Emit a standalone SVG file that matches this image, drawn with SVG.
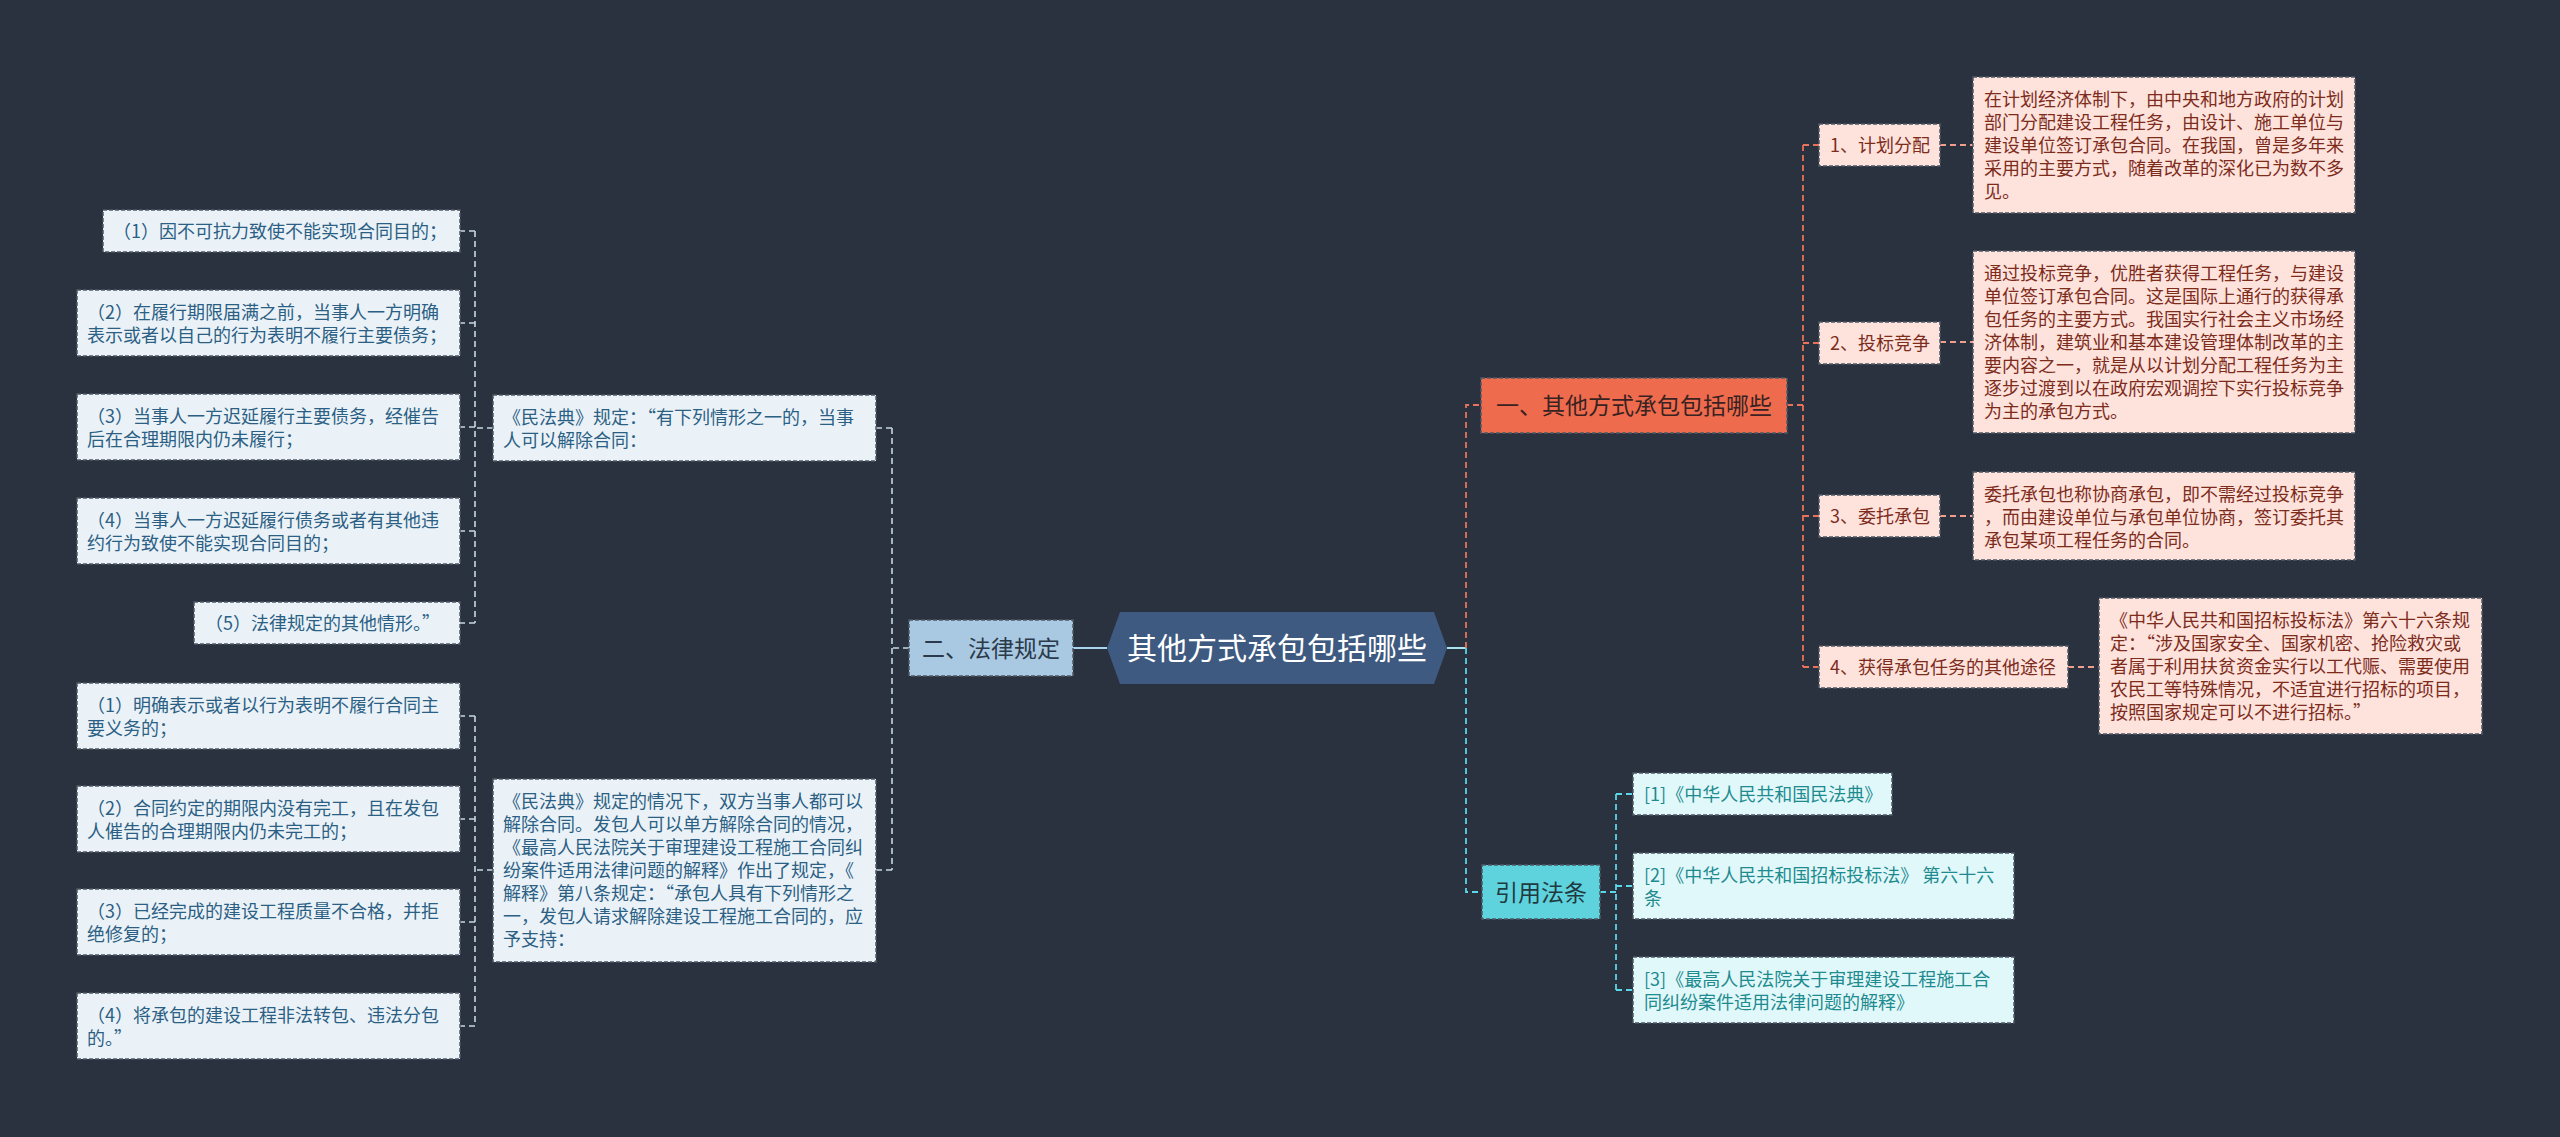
<svg xmlns="http://www.w3.org/2000/svg" width="2560" height="1137" viewBox="0 0 2560 1137">
<style>
text{font-family:"Noto Sans CJK SC","Noto Sans",sans-serif;}
.bx{stroke:#4f5866;stroke-width:1.5;stroke-dasharray:4 2;}
.blue{fill:#eaf2f8;}
.bt{fill:#2c5f84;font-size:18px;}
.pink{fill:#fde3dc;}
.pt{fill:#7d2c1c;font-size:18px;}
.cyan{fill:#e1f8fa;}
.ct{fill:#1d8b8f;font-size:18px;}
.lb{stroke:#c6d8e6;stroke-width:1.6;stroke-dasharray:6 4;fill:none;}
.lo{stroke:#e8735a;stroke-width:1.8;stroke-dasharray:6 4;fill:none;}
.lp{stroke:#ef9f8c;stroke-width:1.8;stroke-dasharray:6 4;fill:none;}
.lc{stroke:#5ad6e6;stroke-width:1.8;stroke-dasharray:6 4;fill:none;}
.br{font-size:23px;text-anchor:middle;}
</style>
<rect width="2560" height="1137" fill="#2a313f"/>
<g id="connectors">
<path d="M1073 648 H1107" stroke="#a8d4ee" stroke-width="2" fill="none"/>
<path class="lb" d="M909 648 H892 M892 428 V870 M892 428 H876 M892 870 H876"/>
<path class="lb" d="M493 428 H475 M475 231 V623 M475 231 H460 M475 323 H460 M475 427 H460 M475 531 H460 M475 623 H460"/>
<path class="lb" d="M493 870 H475 M475 716 V1026 M475 716 H460 M475 819 H460 M475 922 H460 M475 1026 H460"/>
<path d="M1447 648 H1466" stroke="#a8e4f0" stroke-width="2" fill="none"/>
<path class="lo" d="M1466 648 V405 H1481"/>
<path class="lc" d="M1466 648 V892 H1482"/>
<path class="lo" d="M1787 405 H1803 M1803 145 V667 M1803 145 H1819 M1803 343 H1819 M1803 516 H1819 M1803 667 H1819"/>
<path class="lp" d="M1940 145 H1973 M1940 342 H1973 M1940 516 H1973 M2068 667 H2099"/>
<path class="lc" d="M1600 892 H1616 M1616 794 V990 M1616 794 H1633 M1616 886 H1633 M1616 990 H1633"/>
</g>
<g id="root">
<polygon points="1107,648 1120,612 1434,612 1447,648 1434,684 1120,684" fill="#3e5a80"/>
<text x="1277" y="659" font-size="30" fill="#ffffff" text-anchor="middle">其他方式承包包括哪些</text>
</g>
<g id="branch-law">
<rect class="bx" x="909" y="620" width="164" height="56" fill="#a9c9e3"/>
<text class="br" x="991" y="657" fill="#2b3a4a">二、法律规定</text>
</g>
<g id="node-a">
<rect class="bx blue" x="493" y="395" width="383" height="66"/>
<text class="bt" x="503"><tspan x="503" y="423.5">《民法典》规定：“有下列情形之一的，当事</tspan><tspan x="503" y="446.5">人可以解除合同：</tspan></text>
</g>
<g id="node-c1">
<rect class="bx blue" x="103" y="210" width="357" height="42"/>
<text class="bt" x="113" y="237.5">（1）因不可抗力致使不能实现合同目的；</text>
</g>
<g id="node-c2">
<rect class="bx blue" x="77" y="290" width="383" height="66"/>
<text class="bt"><tspan x="87" y="318.5">（2）在履行期限届满之前，当事人一方明确</tspan><tspan x="87" y="341.5">表示或者以自己的行为表明不履行主要债务；</tspan></text>
</g>
<g id="node-c3">
<rect class="bx blue" x="77" y="394" width="383" height="66"/>
<text class="bt"><tspan x="87" y="422.5">（3）当事人一方迟延履行主要债务，经催告</tspan><tspan x="87" y="445.5">后在合理期限内仍未履行；</tspan></text>
</g>
<g id="node-c4">
<rect class="bx blue" x="77" y="498" width="383" height="66"/>
<text class="bt"><tspan x="87" y="526.5">（4）当事人一方迟延履行债务或者有其他违</tspan><tspan x="87" y="549.5">约行为致使不能实现合同目的；</tspan></text>
</g>
<g id="node-c5">
<rect class="bx blue" x="194" y="602" width="266" height="42"/>
<text class="bt" x="205" y="629.5">（5）法律规定的其他情形。”</text>
</g>
<g id="node-b">
<rect class="bx blue" x="493" y="779" width="383" height="183"/>
<text class="bt"><tspan x="503" y="807.5">《民法典》规定的情况下，双方当事人都可以</tspan><tspan x="503" y="830.5">解除合同。发包人可以单方解除合同的情况，</tspan><tspan x="503" y="853.5">《最高人民法院关于审理建设工程施工合同纠</tspan><tspan x="503" y="876.5">纷案件适用法律问题的解释》作出了规定，《</tspan><tspan x="503" y="899.5">解释》第八条规定：“承包人具有下列情形之</tspan><tspan x="503" y="922.5">一，发包人请求解除建设工程施工合同的，应</tspan><tspan x="503" y="945.5">予支持：</tspan></text>
</g>
<g id="node-d1">
<rect class="bx blue" x="77" y="683" width="383" height="66"/>
<text class="bt"><tspan x="87" y="711.5">（1）明确表示或者以行为表明不履行合同主</tspan><tspan x="87" y="734.5">要义务的；</tspan></text>
</g>
<g id="node-d2">
<rect class="bx blue" x="77" y="786" width="383" height="66"/>
<text class="bt"><tspan x="87" y="814.5">（2）合同约定的期限内没有完工，且在发包</tspan><tspan x="87" y="837.5">人催告的合理期限内仍未完工的；</tspan></text>
</g>
<g id="node-d3">
<rect class="bx blue" x="77" y="889" width="383" height="66"/>
<text class="bt"><tspan x="87" y="917.5">（3）已经完成的建设工程质量不合格，并拒</tspan><tspan x="87" y="940.5">绝修复的；</tspan></text>
</g>
<g id="node-d4">
<rect class="bx blue" x="77" y="993" width="383" height="66"/>
<text class="bt"><tspan x="87" y="1021.5">（4）将承包的建设工程非法转包、违法分包</tspan><tspan x="87" y="1044.5">的。”</tspan></text>
</g>
<g id="branch-other">
<rect class="bx" x="1481" y="378" width="306" height="55" fill="#ee6c4d"/>
<text class="br" x="1634" y="414" fill="#3a2222">一、其他方式承包包括哪些</text>
</g>
<g id="node-l1">
<rect class="bx pink" x="1819" y="124" width="121" height="42"/>
<text class="pt" x="1830" y="151.5">1、计划分配</text>
</g>
<g id="node-l2">
<rect class="bx pink" x="1819" y="322" width="121" height="42"/>
<text class="pt" x="1830" y="349.5">2、投标竞争</text>
</g>
<g id="node-l3">
<rect class="bx pink" x="1819" y="495" width="121" height="42"/>
<text class="pt" x="1830" y="522.5">3、委托承包</text>
</g>
<g id="node-l4">
<rect class="bx pink" x="1819" y="646" width="249" height="42"/>
<text class="pt" x="1830" y="673.5">4、获得承包任务的其他途径</text>
</g>
<g id="node-det1">
<rect class="bx pink" x="1973" y="77" width="382" height="136"/>
<text class="pt"><tspan x="1984" y="105.5">在计划经济体制下，由中央和地方政府的计划</tspan><tspan x="1984" y="128.5">部门分配建设工程任务，由设计、施工单位与</tspan><tspan x="1984" y="151.5">建设单位签订承包合同。在我国，曾是多年来</tspan><tspan x="1984" y="174.5">采用的主要方式，随着改革的深化已为数不多</tspan><tspan x="1984" y="197.5">见。</tspan></text>
</g>
<g id="node-det2">
<rect class="bx pink" x="1973" y="251" width="382" height="182"/>
<text class="pt"><tspan x="1984" y="279.5">通过投标竞争，优胜者获得工程任务，与建设</tspan><tspan x="1984" y="302.5">单位签订承包合同。这是国际上通行的获得承</tspan><tspan x="1984" y="325.5">包任务的主要方式。我国实行社会主义市场经</tspan><tspan x="1984" y="348.5">济体制，建筑业和基本建设管理体制改革的主</tspan><tspan x="1984" y="371.5">要内容之一，就是从以计划分配工程任务为主</tspan><tspan x="1984" y="394.5">逐步过渡到以在政府宏观调控下实行投标竞争</tspan><tspan x="1984" y="417.5">为主的承包方式。</tspan></text>
</g>
<g id="node-det3">
<rect class="bx pink" x="1973" y="472" width="382" height="88"/>
<text class="pt"><tspan x="1984" y="500.5">委托承包也称协商承包，即不需经过投标竞争</tspan><tspan x="1984" y="523.5">，而由建设单位与承包单位协商，签订委托其</tspan><tspan x="1984" y="546.5">承包某项工程任务的合同。</tspan></text>
</g>
<g id="node-det4">
<rect class="bx pink" x="2099" y="598" width="383" height="136"/>
<text class="pt"><tspan x="2110" y="626.5">《中华人民共和国招标投标法》第六十六条规</tspan><tspan x="2110" y="649.5">定：“涉及国家安全、国家机密、抢险救灾或</tspan><tspan x="2110" y="672.5">者属于利用扶贫资金实行以工代赈、需要使用</tspan><tspan x="2110" y="695.5">农民工等特殊情况，不适宜进行招标的项目，</tspan><tspan x="2110" y="718.5">按照国家规定可以不进行招标。”</tspan></text>
</g>
<g id="branch-ref">
<rect class="bx" x="1482" y="865" width="118" height="54" fill="#5fd3dd"/>
<text class="br" x="1541" y="901" fill="#1f3a40">引用法条</text>
</g>
<g id="node-r1">
<rect class="bx cyan" x="1633" y="773" width="259" height="42"/>
<text class="ct" x="1644" y="800.5">[1]《中华人民共和国民法典》</text>
</g>
<g id="node-r2">
<rect class="bx cyan" x="1633" y="853" width="381" height="66"/>
<text class="ct"><tspan x="1644" y="881.5">[2]《中华人民共和国招标投标法》 第六十六</tspan><tspan x="1644" y="904.5">条</tspan></text>
</g>
<g id="node-r3">
<rect class="bx cyan" x="1633" y="957" width="381" height="66"/>
<text class="ct"><tspan x="1644" y="985.5">[3]《最高人民法院关于审理建设工程施工合</tspan><tspan x="1644" y="1008.5">同纠纷案件适用法律问题的解释》</tspan></text>
</g>
</svg>
